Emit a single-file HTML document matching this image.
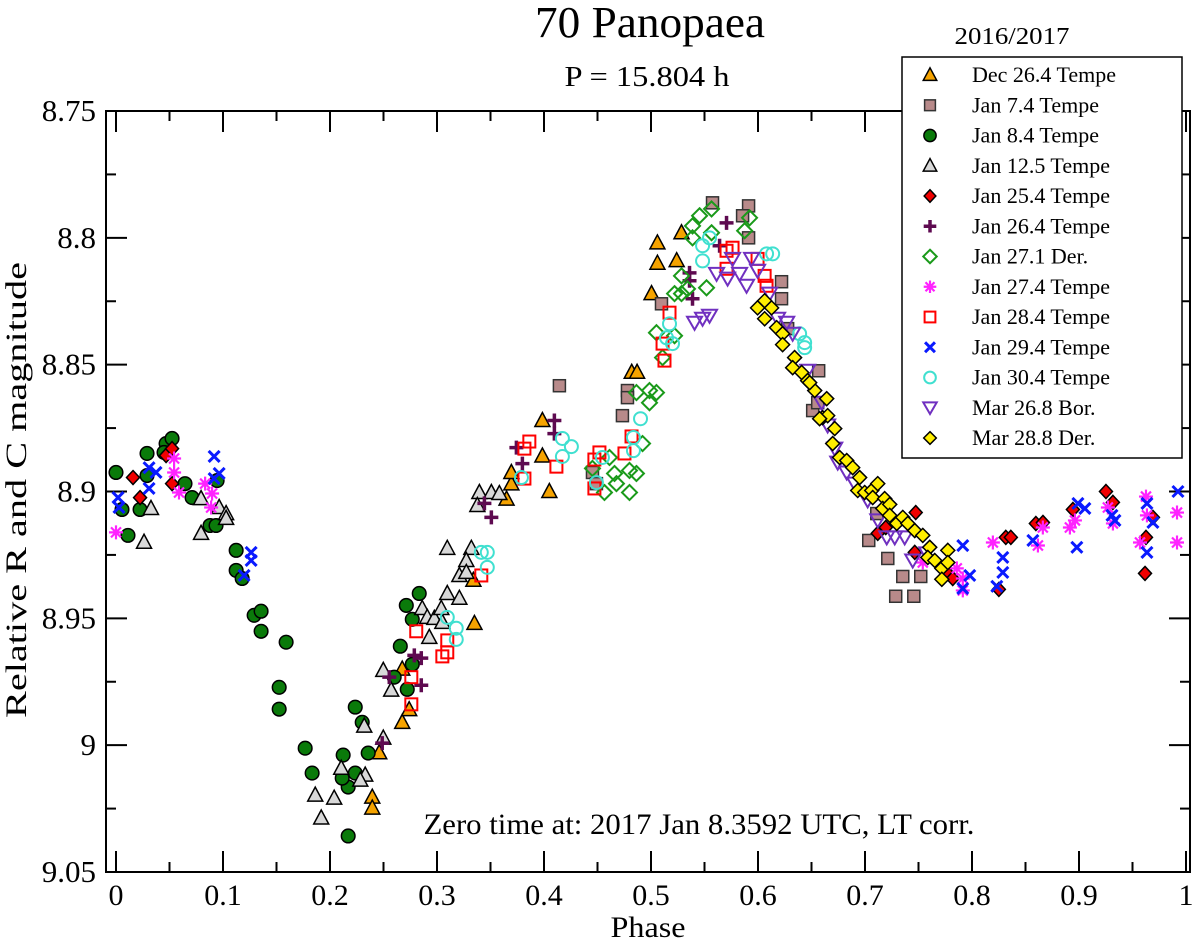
<!DOCTYPE html>
<html><head><meta charset="utf-8"><style>
html,body{margin:0;padding:0;background:#fff;}
svg{display:block;font-family:"Liberation Serif",serif;}
</style></head><body>
<svg id="chart" width="1200" height="942" viewBox="0 0 1200 942">
<text x="650" y="37" text-anchor="middle" font-size="44" textLength="230" lengthAdjust="spacingAndGlyphs">70 Panopaea</text>
<text x="647" y="86" text-anchor="middle" font-size="28" textLength="165" lengthAdjust="spacingAndGlyphs">P = 15.804 h</text>
<text x="1012" y="44" text-anchor="middle" font-size="24" textLength="115" lengthAdjust="spacingAndGlyphs">2016/2017</text>
<g id="plot"></g>
<text x="699" y="834" text-anchor="middle" font-size="30" textLength="551" lengthAdjust="spacingAndGlyphs">Zero time at: 2017 Jan 8.3592 UTC, LT corr.</text>
<text x="648" y="937" text-anchor="middle" font-size="30" textLength="75" lengthAdjust="spacingAndGlyphs">Phase</text>
<text transform="translate(26,490) rotate(-90)" text-anchor="middle" font-size="30" textLength="456" lengthAdjust="spacingAndGlyphs">Relative R and C magnitude</text>
<g id="legend"></g>
</svg>
<script>
const xTicks=[0,0.1,0.2,0.3,0.4,0.5,0.6,0.7,0.8,0.9,1];
const xTickLabels=["0","0.1","0.2","0.3","0.4","0.5","0.6","0.7","0.8","0.9","1"];
const yTicks=[8.75,8.8,8.85,8.9,8.95,9.0,9.05];
const yTickLabels=["8.75","8.8","8.85","8.9","8.95","9","9.05"];
const seriesNames=["Dec 26.4 Tempe","Jan 7.4 Tempe","Jan 8.4 Tempe","Jan 12.5 Tempe","Jan 25.4 Tempe","Jan 26.4 Tempe","Jan 27.1 Der.","Jan 27.4 Tempe","Jan 28.4 Tempe","Jan 29.4 Tempe","Jan 30.4 Tempe","Mar 26.8 Bor.","Mar 28.8 Der."];
const dec26=[[0.2395,9.0205],[0.2395,9.0248],[0.246,9.003],[0.2675,8.991],[0.274,8.986],[0.2675,8.970],[0.334,8.935],[0.335,8.952],[0.365,8.903],[0.3695,8.897],[0.3695,8.8925],[0.3985,8.886],[0.3985,8.872],[0.405,8.900],[0.482,8.853],[0.487,8.853],[0.5005,8.822],[0.506,8.810],[0.506,8.802],[0.524,8.809],[0.5285,8.798]];
const jan7=[[0.4144,8.8583],[0.4733,8.8701],[0.478,8.8602],[0.478,8.863],[0.4453,8.8925],[0.449,8.8969],[0.5098,8.826],[0.5575,8.7862],[0.5912,8.7874],[0.5856,8.7913],[0.5912,8.80],[0.622,8.8173],[0.622,8.824],[0.6277,8.8358],[0.6567,8.8524],[0.6511,8.8681],[0.6558,8.865],[0.711,8.9087],[0.7035,8.9193],[0.7213,8.9264],[0.7353,8.9335],[0.7521,8.9335],[0.7287,8.9413],[0.7456,8.9413]];
const jan8=[[0.0,8.8925],[0.0112,8.9173],[0.0056,8.9071],[0.0225,8.9071],[0.029,8.885],[0.029,8.8937],[0.0468,8.8811],[0.0524,8.8791],[0.0449,8.8846],[0.0645,8.8969],[0.0711,8.9024],[0.0879,8.9134],[0.0935,8.9134],[0.0945,8.8957],[0.1123,8.9232],[0.1123,8.9311],[0.1179,8.9343],[0.1291,8.9488],[0.1356,8.9472],[0.1356,8.9551],[0.159,8.9594],[0.1525,8.9772],[0.1525,8.9858],[0.1768,9.0012],[0.1833,9.011],[0.2123,9.0039],[0.2236,9.011],[0.217,9.0165],[0.2114,9.013],[0.217,9.0358],[0.2357,9.0031],[0.2301,8.991],[0.2236,8.985],[0.2657,8.961],[0.26,8.9732],[0.2722,8.978],[0.2769,8.9681],[0.2769,8.9504],[0.2713,8.9449],[0.2834,8.9402]];
const jan12=[[0.0327,8.9067],[0.0262,8.920],[0.0795,8.9028],[0.0795,8.9165],[0.0964,8.9063],[0.1029,8.9087],[0.1029,8.9106],[0.1862,9.0197],[0.2039,9.0209],[0.1918,9.0287],[0.2105,9.0091],[0.2329,9.0118],[0.232,8.9925],[0.2283,9.0138],[0.2498,8.9972],[0.2498,8.9705],[0.2572,8.9783],[0.2862,8.9461],[0.2928,8.9575],[0.2909,8.9496],[0.2975,8.95],[0.304,8.9461],[0.3096,8.9402],[0.3209,8.9421],[0.3096,8.9224],[0.3321,8.9224],[0.3274,8.9272],[0.3209,8.9331],[0.3274,8.9319],[0.3396,8.9004],[0.3508,8.9004],[0.3377,8.9055],[0.305,8.9516],[0.3583,8.9008]];
const jan25=[[0.0159,8.8945],[0.0225,8.9024],[0.0468,8.8858],[0.0524,8.8831],[0.0524,8.8969],[0.7474,8.9083],[0.7194,8.9142],[0.7119,8.9165],[0.7465,8.924],[0.7774,8.9323],[0.782,8.9343],[0.8251,8.9386],[0.8316,8.9181],[0.8363,8.9181],[0.8597,8.9126],[0.8663,8.9122],[0.8943,8.9071],[0.9252,8.9],[0.9317,8.9043],[0.9626,8.9181],[0.9617,8.9323],[0.9691,8.9102]];
const jan26=[[0.3443,8.9047],[0.3508,8.9102],[0.2788,8.9646],[0.2853,8.9657],[0.2853,8.9764],[0.2554,8.9732],[0.2488,8.9992],[0.3742,8.8827],[0.3798,8.889],[0.4097,8.872],[0.4097,8.8772],[0.5706,8.7941],[0.5641,8.8031],[0.536,8.8138],[0.536,8.8169],[0.5388,8.824]];
const jan27d=[[0.5454,8.7913],[0.5566,8.7886],[0.5388,8.7953],[0.5388,8.80],[0.5566,8.798],[0.5921,8.7921],[0.5875,8.7972],[0.5285,8.815],[0.5341,8.8201],[0.522,8.822],[0.5285,8.822],[0.5519,8.8197],[0.5051,8.8374],[0.522,8.8386],[0.5108,8.8472],[0.4864,8.861],[0.4986,8.8602],[0.5051,8.861],[0.4986,8.865],[0.4921,8.8811],[0.4612,8.8866],[0.4659,8.8929],[0.4677,8.8969],[0.4799,8.8917],[0.4864,8.8929],[0.4799,8.9004],[0.4565,8.9004],[0.4453,8.8909]];
const jan27t=[[0.0,8.9161],[0.0543,8.887],[0.0543,8.8925],[0.0589,8.9004],[0.0833,8.8969],[0.0898,8.9008],[0.0889,8.9063],[0.754,8.928],[0.7858,8.9303],[0.7914,8.9343],[0.7914,8.939],[0.8195,8.9201],[0.8662,8.9142],[0.8616,8.9213],[0.8915,8.9142],[0.8962,8.9114],[0.927,8.9063],[0.9317,8.9126],[0.9626,8.902],[0.9635,8.9094],[0.957,8.9201],[0.9916,8.9083],[0.9916,8.9201]];
const jan28=[[0.2806,8.9551],[0.276,8.9732],[0.276,8.9839],[0.3096,8.9587],[0.3096,8.9634],[0.305,8.965],[0.3414,8.9331],[0.3863,8.8803],[0.3817,8.8831],[0.4116,8.8902],[0.3817,8.8949],[0.4518,8.8846],[0.4471,8.8874],[0.4471,8.8988],[0.4752,8.885],[0.4818,8.8783],[0.5173,8.8295],[0.5108,8.8417],[0.5126,8.8484],[0.5706,8.8051],[0.5762,8.8039],[0.5706,8.8122],[0.5996,8.8083],[0.6062,8.815],[0.608,8.8189]];
const jan29=[[0.0019,8.9024],[0.0028,8.9063],[0.0309,8.8906],[0.0374,8.8925],[0.0309,8.8988],[0.0917,8.8862],[0.0964,8.8929],[0.0917,8.8949],[0.1263,8.924],[0.1263,8.9272],[0.1197,8.9331],[0.7914,8.9213],[0.7979,8.9331],[0.7914,8.9382],[0.8288,8.926],[0.8288,8.9319],[0.8232,8.9374],[0.8569,8.9193],[0.899,8.9047],[0.9055,8.9067],[0.898,8.922],[0.9308,8.9094],[0.9336,8.9114],[0.9635,8.9047],[0.9691,8.9122],[0.9635,8.924],[0.9925,8.9]];
const jan30=[[0.3096,8.9496],[0.318,8.9539],[0.318,8.9583],[0.3414,8.924],[0.347,8.924],[0.347,8.9299],[0.3789,8.8945],[0.4172,8.8791],[0.4256,8.8823],[0.4172,8.8862],[0.449,8.8965],[0.4546,8.8866],[0.4836,8.8787],[0.4836,8.8839],[0.4902,8.8713],[0.5173,8.8339],[0.5145,8.8394],[0.5201,8.8417],[0.5482,8.8091],[0.5482,8.8031],[0.5547,8.80],[0.608,8.8063],[0.6137,8.8063],[0.6389,8.8378],[0.6436,8.8413],[0.6436,8.8433]];
const mar26=[[0.5613,8.8142],[0.5716,8.8161],[0.5828,8.8142],[0.5893,8.8189],[0.5762,8.8083],[0.594,8.8083],[0.5996,8.813],[0.6109,8.822],[0.5407,8.8335],[0.5482,8.8319],[0.5547,8.8307],[0.6183,8.8319],[0.6268,8.8335],[0.6324,8.8378],[0.6464,8.8524],[0.6595,8.865],[0.6651,8.874],[0.6717,8.8831],[0.6745,8.8886],[0.6829,8.8925],[0.6904,8.8969],[0.7025,8.9035],[0.7119,8.9114],[0.7203,8.9181],[0.7278,8.9181],[0.7371,8.9181],[0.7446,8.9272],[0.7577,8.9244]];
const mar28=[[0.5996,8.8276],[0.6062,8.8248],[0.6127,8.8276],[0.6062,8.8319],[0.6174,8.8354],[0.623,8.8378],[0.623,8.8421],[0.6342,8.8472],[0.6324,8.8512],[0.6408,8.8531],[0.6464,8.8563],[0.653,8.8602],[0.6642,8.8634],[0.6604,8.8709],[0.6483,8.8571],[0.6651,8.8701],[0.6576,8.8713],[0.6717,8.8752],[0.6698,8.8811],[0.6763,8.8866],[0.6829,8.8878],[0.6885,8.8906],[0.695,8.8945],[0.6932,8.8996],[0.6997,8.9004],[0.7063,8.8996],[0.7119,8.8969],[0.7072,8.9024],[0.7184,8.9028],[0.7166,8.9067],[0.7231,8.9051],[0.7231,8.9094],[0.7297,8.9126],[0.7353,8.9102],[0.74,8.9126],[0.7465,8.9154],[0.754,8.9173],[0.7605,8.922],[0.7587,8.926],[0.7652,8.9272],[0.7718,8.9303],[0.7774,8.9232],[0.7774,8.928],[0.7718,8.9346]];

const NS="http://www.w3.org/2000/svg";
const L=106,R=1190,T=111,B=872;
const X0=116,XS=1070;
function xs(p){return X0+p*XS;}
function ys(m){return T+(m-8.75)/0.3*(B-T);}
function mk(tag,attrs,parent){const e=document.createElementNS(NS,tag);for(const k in attrs)e.setAttribute(k,attrs[k]);parent.appendChild(e);return e;}
const plot=document.getElementById('plot');

const frame=mk('rect',{x:L,y:T,width:R-L,height:B-T,fill:'none',stroke:'#000','stroke-width':2},plot);


for(let i=0;i<=20;i++){
  const p=i*0.05,x=xs(p),major=i%2===0,len=major?21:10;
  const t1=mk('line',{x1:x,y1:B,x2:x,y2:B-len,stroke:'#000','stroke-width':2},plot);
  
  
  const t2=mk('line',{x1:x,y1:T,x2:x,y2:T+len,stroke:'#000','stroke-width':2},plot);
  
  
}
xTicks.forEach((v,i)=>{
  const t=mk('text',{x:xs(v),y:905,'text-anchor':'middle','font-size':30},plot);
  t.textContent=xTickLabels[i];
  
  
});
for(let i=0;i<=12;i++){
  const m=8.75+i*0.025,y=ys(m),major=i%2===0,len=major?21:10;
  const t1=mk('line',{x1:L,y1:y,x2:L+len,y2:y,stroke:'#000','stroke-width':2},plot);
  
  
  const t2=mk('line',{x1:R,y1:y,x2:R-len,y2:y,stroke:'#000','stroke-width':2},plot);
  
  
}
yTicks.forEach((v,i)=>{
  const t=mk('text',{x:96,y:ys(v)+10,'text-anchor':'end','font-size':31},plot);
  t.textContent=yTickLabels[i];
  
  
});

function marker(type,cx,cy,parent,s){
  s=s||1;
  const sw=1.5;
  switch(type){
    case 'tri': return mk('polygon',{points:`${cx},${cy-8*s} ${cx-7.5*s},${cy+6*s} ${cx+7.5*s},${cy+6*s}`,fill:'#f5a300',stroke:'#000','stroke-width':sw},parent);
    case 'greytri': return mk('polygon',{points:`${cx},${cy-8*s} ${cx-7.5*s},${cy+6*s} ${cx+7.5*s},${cy+6*s}`,fill:'#d8d8d8',stroke:'#000','stroke-width':sw},parent);
    case 'sq': return mk('rect',{x:cx-6*s,y:cy-6*s,width:12*s,height:12*s,fill:'#b88a8a',stroke:'#333','stroke-width':sw},parent);
    case 'circ': return mk('circle',{cx:cx,cy:cy,r:6.8*s,fill:'#0a7a0a',stroke:'#000','stroke-width':sw},parent);
    case 'rdia': return mk('polygon',{points:`${cx},${cy-7*s} ${cx+6.5*s},${cy} ${cx},${cy+7*s} ${cx-6.5*s},${cy}`,fill:'#f00000',stroke:'#000','stroke-width':sw},parent);
    case 'plus': return mk('path',{d:`M${cx-7*s},${cy}H${cx+7*s}M${cx},${cy-7*s}V${cy+7*s}`,stroke:'#5e0a50','stroke-width':3.5,fill:'none'},parent);
    case 'gdia': return mk('polygon',{points:`${cx},${cy-7.5*s} ${cx+7.5*s},${cy} ${cx},${cy+7.5*s} ${cx-7.5*s},${cy}`,fill:'none',stroke:'#1a9a1a','stroke-width':2},parent);
    case 'star': return mk('path',{d:`M${cx-7*s},${cy}H${cx+7*s}M${cx},${cy-7*s}V${cy+7*s}M${cx-5*s},${cy-5*s}L${cx+5*s},${cy+5*s}M${cx-5*s},${cy+5*s}L${cx+5*s},${cy-5*s}`,stroke:'#ff22ff','stroke-width':2.2,fill:'none'},parent);
    case 'osq': return mk('rect',{x:cx-6*s,y:cy-6*s,width:12*s,height:12*s,fill:'none',stroke:'#ff0000','stroke-width':2},parent);
    case 'x': return mk('path',{d:`M${cx-5.5*s},${cy-5.5*s}L${cx+5.5*s},${cy+5.5*s}M${cx-5.5*s},${cy+5.5*s}L${cx+5.5*s},${cy-5.5*s}`,stroke:'#0a1aff','stroke-width':3,fill:'none'},parent);
    case 'ocirc': return mk('circle',{cx:cx,cy:cy,r:6.5*s,fill:'none',stroke:'#40e0d0','stroke-width':2},parent);
    case 'dtri': return mk('polygon',{points:`${cx},${cy+7*s} ${cx-7.5*s},${cy-6*s} ${cx+7.5*s},${cy-6*s}`,fill:'none',stroke:'#7030c0','stroke-width':2},parent);
    case 'ydia': return mk('polygon',{points:`${cx},${cy-7*s} ${cx+7*s},${cy} ${cx},${cy+7*s} ${cx-7*s},${cy}`,fill:'#ffee00',stroke:'#000','stroke-width':1.5},parent);
  }
}
const seriesData=[dec26,jan7,jan8,jan12,jan25,jan26,jan27d,jan27t,jan28,jan29,jan30,mar26,mar28];
const seriesMarkers=['tri','sq','circ','greytri','rdia','plus','gdia','star','osq','x','ocirc','dtri','ydia'];
const seriesIds=['dec-26-4','jan-7-4','jan-8-4','jan-12-5','jan-25-4','jan-26-4','jan-27-1','jan-27-4','jan-28-4','jan-29-4','jan-30-4','mar-26-8','mar-28-8'];
seriesData.forEach((arr,si)=>{
  const g=mk('g',{},plot);
  
  
  arr.forEach(d=>{
    const m=marker(seriesMarkers[si],xs(d[0]),ys(d[1]),g);
    
    
  });
});

const lg=document.getElementById('legend');
const box=mk('rect',{x:902,y:57,width:280,height:401,fill:'#fff',stroke:'#000','stroke-width':1.5},lg);


seriesNames.forEach((n,i)=>{
  const y=75+i*30.25;
  const g=mk('g',{},lg);
  
  
  marker(seriesMarkers[i],930,y,g,0.9);
  const t=mk('text',{x:972,y:y+7,'font-size':22},g);
  t.textContent=n;
});
</script>
</body></html>
